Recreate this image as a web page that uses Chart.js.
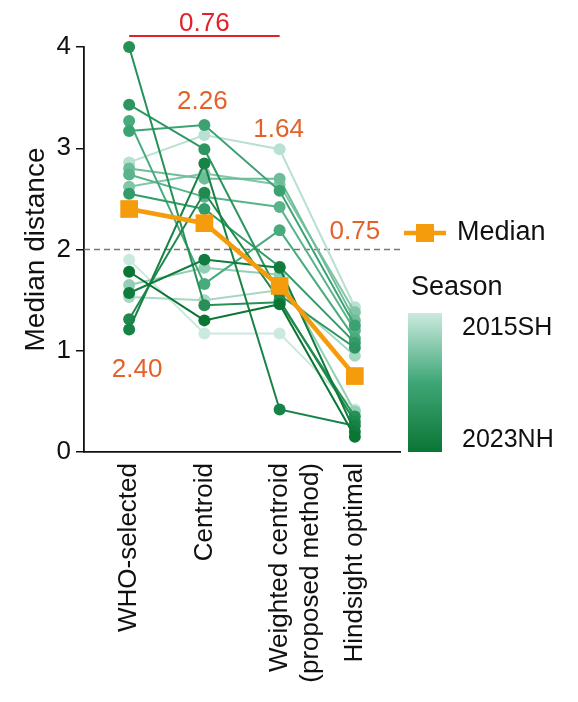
<!DOCTYPE html>
<html>
<head>
<meta charset="utf-8">
<script src="https://cdn.jsdelivr.net/npm/chart.js@4"></script>
<style>
  body { margin: 0; background: #fff; }
  #wrap { width: 578px; height: 702px; }
</style>
</head>
<body>
<div id="wrap"><canvas id="distChart" width="578" height="702"></canvas></div>
<script>
// Methods on the x axis and one row of values per season
const methods = ['WHO-selected', 'Centroid', ['Weighted centroid', '(proposed method)'], 'Hindsight optimal'];
const seasons = ['2015SH', '2016NH', '2016SH', '2017NH', '2017SH', '2018NH', '2018SH', '2019NH',
                 '2019SH', '2020NH', '2020SH', '2021NH', '2021SH', '2022NH', '2022SH', '2023NH'];

const whoSelected = [1.90, 2.86, 1.53, 1.65, 2.62, 2.80, 2.74, 3.27, 3.17, 2.55, 3.43, 4.00, 1.31, 1.21, 1.57, 1.78];
const centroid    = [1.17, 3.13, 1.50, 1.82, 2.75, 2.70, 2.52, 1.66, 3.23, 2.40, 2.99, 1.45, 2.56, 2.85, 1.90, 1.30];
const weighted    = [1.17, 2.99, 1.60, 1.75, 2.64, 2.70, 2.42, 2.19, 2.58, 1.83, 1.55, 1.48, 1.50, 0.42, 1.82, 1.46];
const hindsight   = [0.42, 1.43, 0.95, 0.40, 1.38, 1.30, 1.20, 1.12, 1.25, 1.08, 1.03, 0.35, 0.30, 0.26, 0.20, 0.15];

const medians = [2.40, 2.26, 1.64, 0.75];
const yTicks = [0, 1, 2, 3, 4];

const FONT = 'Arial, "Liberation Sans", sans-serif';
const ORANGE = '#f59c0c';
const LABEL_ORANGE = '#e2622b';

// light mint -> dark green ramp for the seasons
const stops = [[203, 234, 223], [62, 166, 118], [10, 118, 52]];
function seasonColor(t) {
    const seg = t < 0.5 ? 0 : 1;
    const u = t < 0.5 ? t / 0.5 : (t - 0.5) / 0.5;
    const a = stops[seg], b = stops[seg + 1];
    const c = a.map((v, k) => Math.round(v + (b[k] - v) * u));
    return `rgb(${c[0]},${c[1]},${c[2]})`;
}

const seasonSets = seasons.map((s, i) => {
    const col = seasonColor(i / (seasons.length - 1));
    const vals = [whoSelected[i], centroid[i], weighted[i], hindsight[i]];
    return {
        label: s,
        data: vals.map((v, k) => ({ x: k, y: v })),
        borderColor: col,
        backgroundColor: col,
        borderWidth: 2,
        pointRadius: 6,
        pointBorderWidth: 0,
        pointBackgroundColor: col,
        clip: false,
        order: seasons.length - i
    };
});

const medianSet = {
    label: 'Median',
    data: medians.map((v, k) => ({ x: k, y: v })),
    borderColor: ORANGE,
    backgroundColor: ORANGE,
    borderWidth: 4.5,
    pointStyle: 'rect',
    pointRadius: 12.5,
    pointBorderWidth: 0,
    pointBackgroundColor: ORANGE,
    clip: false,
    order: 0
};

const extras = {
    id: 'extras',
    beforeDatasetsDraw(chart) {
        const { ctx, chartArea, scales: { y } } = chart;
        const yy = y.getPixelForValue(2);
        ctx.save();
        ctx.strokeStyle = '#777';
        ctx.lineWidth = 1.6;
        ctx.setLineDash([6, 4]);
        ctx.beginPath();
        ctx.moveTo(chartArea.left, yy);
        ctx.lineTo(chartArea.right, yy);
        ctx.stroke();
        ctx.restore();
    },
    afterDraw(chart) {
        const { ctx, chartArea, scales: { x, y } } = chart;
        ctx.save();

        // median value labels
        const spots = [[8, 0.81], [-2, 3.46], [-1, 3.18], [0, 2.17]];
        ctx.fillStyle = LABEL_ORANGE;
        ctx.font = `26px ${FONT}`;
        ctx.textAlign = 'center';
        ctx.textBaseline = 'middle';
        medians.forEach((m, k) => {
            ctx.fillText(m.toFixed(2), x.getPixelForValue(k) + spots[k][0], y.getPixelForValue(spots[k][1]));
        });

        // bracket between WHO-selected and proposed method
        const bx0 = x.getPixelForValue(0), bx1 = x.getPixelForValue(2);
        const by = chartArea.top - 11;
        ctx.strokeStyle = '#e3202a';
        ctx.lineWidth = 2;
        ctx.beginPath();
        ctx.moveTo(bx0, by);
        ctx.lineTo(bx1, by);
        ctx.stroke();
        ctx.fillStyle = '#e3202a';
        ctx.textBaseline = 'alphabetic';
        ctx.fillText((medians[0] - medians[2]).toFixed(2), (bx0 + bx1) / 2, by - 5);

        // legend: median marker
        const lx = chartArea.right + 4, ly = 233;
        ctx.strokeStyle = ORANGE;
        ctx.lineWidth = 4.5;
        ctx.beginPath();
        ctx.moveTo(lx, ly);
        ctx.lineTo(lx + 42, ly);
        ctx.stroke();
        ctx.fillStyle = ORANGE;
        ctx.fillRect(lx + 12, ly - 9, 18, 18);
        ctx.fillStyle = '#111';
        ctx.font = `27px ${FONT}`;
        ctx.textAlign = 'left';
        ctx.textBaseline = 'middle';
        ctx.fillText('Median', lx + 53, ly);

        // legend: season ramp
        ctx.fillText('Season', chartArea.right + 11, 288);
        const gx = chartArea.right + 8, gTop = 313, gBot = 452;
        const grad = ctx.createLinearGradient(0, gTop, 0, gBot);
        grad.addColorStop(0, seasonColor(0));
        grad.addColorStop(0.5, seasonColor(0.5));
        grad.addColorStop(1, seasonColor(1));
        ctx.fillStyle = grad;
        ctx.fillRect(gx, gTop, 34, gBot - gTop);
        ctx.fillStyle = '#111';
        ctx.font = `25px ${FONT}`;
        ctx.fillText(seasons[0], gx + 54, 328);
        ctx.fillText(seasons[seasons.length - 1], gx + 54, 440);

        ctx.restore();
    }
};

new Chart(document.getElementById('distChart'), {
    type: 'line',
    data: { datasets: [medianSet, ...seasonSets] },
    options: {
        responsive: false,
        animation: false,
        layout: { padding: { top: 47, right: 178, bottom: 0, left: 0 } },
        plugins: { legend: { display: false }, tooltip: { enabled: false } },
        scales: {
            x: {
                type: 'linear',
                min: -0.6,
                max: 3.6,
                afterBuildTicks: s => { s.ticks = methods.map((_, k) => ({ value: k })); },
                afterFit: s => { s.height = 250; },
                grid: { display: false },
                border: { display: true, color: '#111', width: 1.8 },
                ticks: {
                    minRotation: 90,
                    maxRotation: 90,
                    padding: 3,
                    color: '#111',
                    font: { family: FONT, size: 26 },
                    callback: v => methods[v]
                }
            },
            y: {
                min: 0,
                max: 4,
                afterBuildTicks: s => { s.ticks = yTicks.map(v => ({ value: v })); },
                afterFit: s => { s.width = 84; },
                grid: { drawOnChartArea: false, drawTicks: true, tickLength: 8, color: '#111', lineWidth: 1.5 },
                border: { display: true, color: '#111', width: 1.8 },
                ticks: { padding: 5, color: '#111', font: { family: FONT, size: 26 } },
                title: {
                    display: true,
                    text: 'Median distance',
                    color: '#111',
                    font: { family: FONT, size: 28 },
                    padding: { top: 19, bottom: 0 }
                }
            }
        }
    },
    plugins: [extras]
});
</script>
</body>
</html>
